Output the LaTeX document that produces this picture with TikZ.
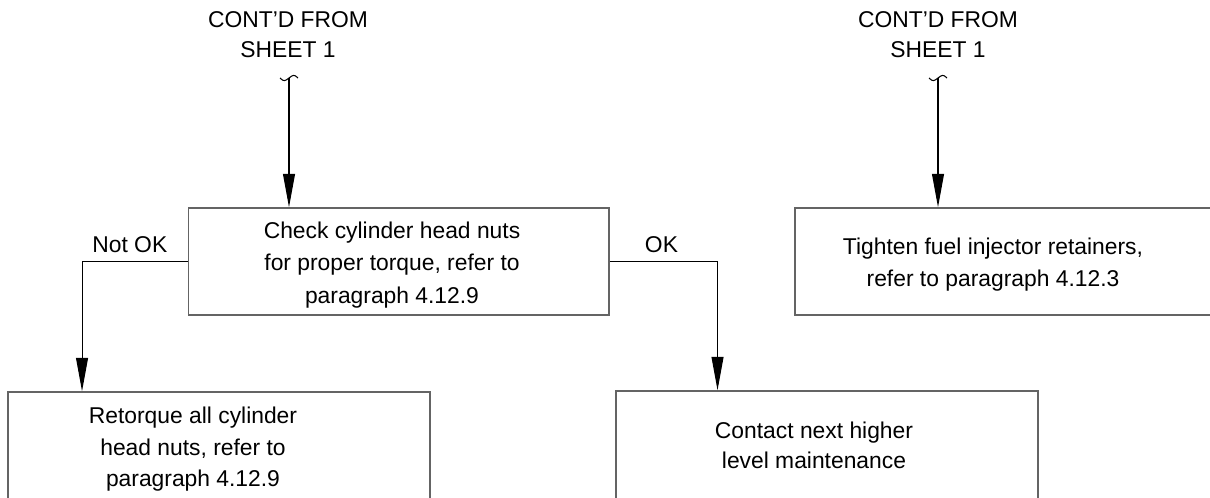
\documentclass[tikz,border=0pt]{standalone}
\usepackage{fontspec}
\setmainfont{Liberation Sans}
\usetikzlibrary{arrows.meta, positioning, calc}
\definecolor{boxgray}{RGB}{100, 100, 100}

\tikzset{
  stepbox/.style={draw=boxgray, line width=0.9pt, rectangle, inner sep=0pt},
  boxtext/.style={align=center, font=\fontsize{13}{18.3}\selectfont, inner sep=0pt},
  sheetref/.style={align=center, font=\fontsize{13}{17}\selectfont, inner sep=0pt},
  flow/.style={draw=black, line width=0.6pt, -{Triangle[length=19pt, width=6.8pt]}},
  branch/.style={font=\fontsize{13}{15}\selectfont, above, inner sep=4.6pt}
}

\begin{document}
\begin{tikzpicture}[x=0.02cm, y=-0.02cm]
        \clip (0,0) rectangle (1210,497);

        % off-page connectors at the top
        \node[sheetref] (from1) at (288,34.5) {CONT'D FROM\\SHEET 1};
        \node[sheetref] (from2) at (938,34.5) {CONT'D FROM\\SHEET 1};
        \coordinate (brk1) at (289,78);
        \coordinate (brk2) at (938,78);
        \foreach \b in {brk1, brk2}{
          \draw[line width=0.6pt] ([xshift=-9*0.02cm]\b) .. controls +(4,4) and +(-4,3) .. (\b)
            .. controls +(4,-3) and +(-4,-4) .. ([xshift=9*0.02cm]\b);
        }

        % boxes (outlines first, text set on top)
        \node[stepbox, minimum width=8.41cm, minimum height=2.14cm] (check) at (398.75,261.5) {};
        \node[stepbox, minimum width=8.44cm, minimum height=2.56cm] (retorque) at (219,456) {};
        \node[stepbox, minimum width=8.44cm, minimum height=2.58cm] (contact) at (827,455.5) {};
        \node[stepbox, minimum width=8.4cm, minimum height=2.14cm] (fuel) at (1005,261.5) {};

        \node[boxtext, font=\fontsize{13}{18.6}\selectfont] (checktxt) at (392,265)
          {Check cylinder head nuts\\for proper torque, refer to\\paragraph 4.12.9};
        \node[boxtext, font=\fontsize{13}{17.9}\selectfont] (retorquetxt) at (193,449.5)
          {Retorque all cylinder\\head nuts, refer to\\paragraph 4.12.9};
        \node[boxtext, font=\fontsize{13}{17}\selectfont] (contacttxt) at (814,445)
          {Contact next higher\\level maintenance};
        \node[boxtext] (fueltxt) at (993,265)
          {Tighten fuel injector retainers,\\refer to paragraph 4.12.3};

        % arrows
        \draw[flow] (brk1) -- (brk1 |- check.north);
        \draw[flow] (brk2) -- (brk2 |- fuel.north);
        \draw[flow] (check.west) -| node[branch, pos=0.274] {Not OK} ([xshift=-2.74cm]retorque.north);
        \draw[flow] (check.east) -| node[branch, pos=0.24] {OK} ([xshift=-2.19cm]contact.north);
      \end{tikzpicture}
\end{document}
